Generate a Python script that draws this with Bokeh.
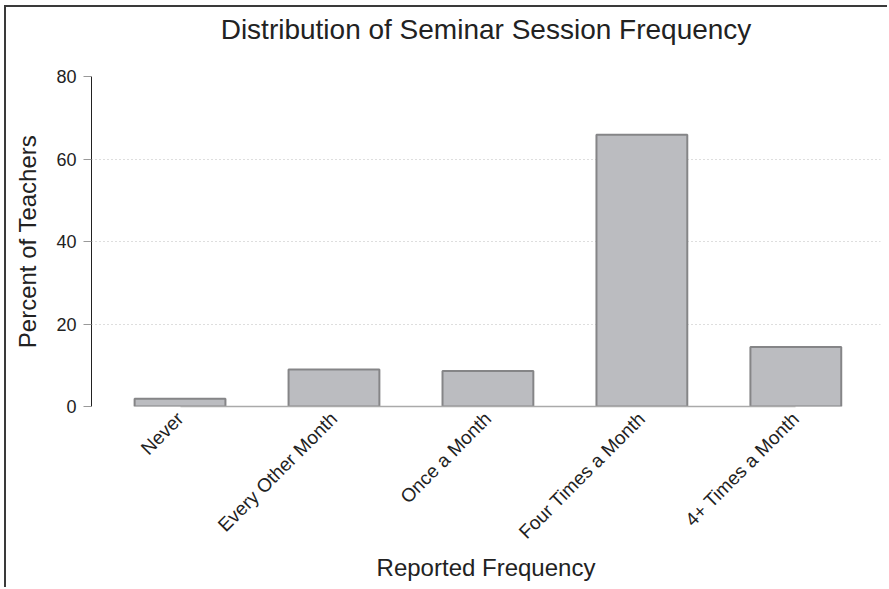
import math
from bokeh.plotting import figure
from bokeh.models import Range1d, FixedTicker, ColumnDataSource, Title
from bokeh.embed import file_html
from bokeh.resources import INLINE

categories = ["Never", "Every Other Month", "Once a Month", "Four Times a Month", "4+ Times a Month"]
percents = [1.9, 9.0, 8.6, 65.9, 14.4]
y_ticks = [0, 20, 40, 60, 80]
grid_ticks = [0, 20, 40, 60]
title_text = "Distribution of Seminar Session Frequency"

FONT = "Liberation Sans"
positions = list(range(len(categories)))

src = ColumnDataSource(dict(x=positions, top=percents, name=categories))

p = figure(width=883, height=582, output_backend="svg", toolbar_location=None,
           x_range=Range1d(-0.575, 4.55), y_range=Range1d(0, 80),
           min_border_left=85, min_border_right=9, min_border_top=69, min_border_bottom=183,
           margin=(5, 0, 0, 4),
           styles={"border-left": "2px solid #3a3a3a", "border-top": "2px solid #3a3a3a"})

# spacer between title and frame, then the title itself (added later = further out)
p.add_layout(Title(text=" ", text_font_size="26px", standoff=0), "above")
p.add_layout(Title(text=title_text, text_font=FONT, text_font_size="28px",
                   text_font_style="normal", text_color="#222222", align="center",
                   standoff=0), "above")

p.vbar(x="x", top="top", width=0.59, bottom=0, source=src,
       fill_color="#bbbcc0", line_color="#858587", line_width=2)

p.outline_line_color = None
p.background_fill_color = "white"
p.border_fill_color = "white"

p.xgrid.grid_line_color = None
p.ygrid.ticker = FixedTicker(ticks=grid_ticks)
p.ygrid.grid_line_color = "#bdbdbd"
p.ygrid.grid_line_dash = "1 3"
p.ygrid.grid_line_width = 1

yax = p.yaxis[0]
yax.ticker = FixedTicker(ticks=y_ticks)
yax.bounds = (0, 80)
yax.axis_line_color = "#222222"
yax.axis_line_width = 1
yax.major_tick_line_color = "#999999"
yax.major_tick_out = 8
yax.major_tick_in = 0
yax.minor_tick_line_color = None
yax.major_label_text_font = FONT
yax.major_label_text_font_size = "18px"
yax.major_label_text_color = "#222222"
yax.major_label_standoff = 7
yax.axis_label = "Percent of Teachers"
yax.axis_label_text_font = FONT
yax.axis_label_text_font_size = "24px"
yax.axis_label_text_font_style = "normal"
yax.axis_label_text_color = "#222222"
yax.axis_label_standoff = 12

xax = p.xaxis[0]
xax.ticker = FixedTicker(ticks=positions)
xax.major_label_overrides = {i: c for i, c in zip(positions, categories)}
xax.bounds = (0, 4)
xax.axis_line_color = "#aaaaaa"
xax.axis_line_width = 1.5
xax.major_tick_line_color = None
xax.minor_tick_line_color = None
xax.major_label_orientation = math.pi / 4
xax.major_label_text_font = FONT
xax.major_label_text_font_size = "19px"
xax.major_label_text_color = "#222222"
xax.major_label_standoff = 3
xax.axis_label = "Reported Frequency"
xax.axis_label_text_font = FONT
xax.axis_label_text_font_size = "24px"
xax.axis_label_text_font_style = "normal"
xax.axis_label_text_color = "#222222"
xax.axis_label_standoff = 1

open("out.html", "w").write(file_html(p, INLINE))
